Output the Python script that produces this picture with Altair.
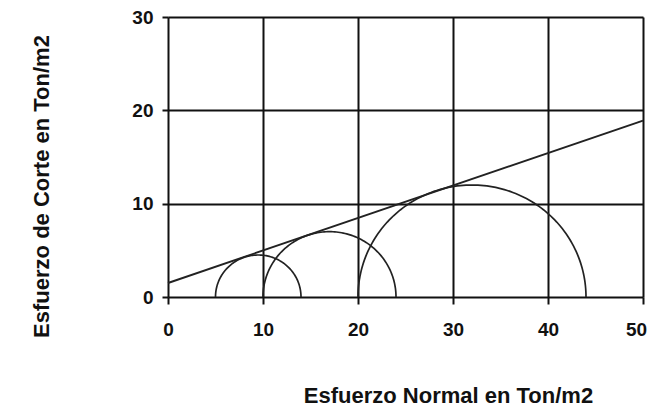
import altair as alt
import numpy as np
import pandas as pd

# Mohr circles: centre and radius (Ton/m2)
circle_ids = ["c1", "c2", "c3"]
centers = [9.5, 17.0, 32.0]
radii = [4.5, 7.0, 12.0]

# Failure envelope (Mohr-Coulomb line)
env_x = [0, 50]
env_y = [1.5, 18.9]

x_ticks = [0, 10, 20, 30, 40, 50]
y_ticks = [0, 10, 20, 30]

angles = np.linspace(0, np.pi, 121)
rows = []
for cid, c, r in zip(circle_ids, centers, radii):
    for i, t in enumerate(angles):
        rows.append({"id": cid, "c": c, "r": r, "t": float(t), "i": i})
circ_df = pd.DataFrame(rows)
env_df = pd.DataFrame({"x": env_x, "y": env_y})

FONT = "Liberation Sans"

xscale = alt.Scale(domain=[0, 50], nice=False, zero=False)
yscale = alt.Scale(domain=[0, 30], nice=False, zero=False)

xaxis = alt.Axis(
    values=x_ticks, title="Esfuerzo Normal en Ton/m2", grid=True,
    gridColor="#111111", gridWidth=2, gridOpacity=1,
    domain=False, tickColor="#111111", tickWidth=2, tickSize=7,
    labelFont=FONT, labelFontSize=19, labelFontWeight="bold", labelColor="#111111",
    labelPadding=16, labelFlush=False,
    labelOffset={"condition": {"test": "datum.value == 50", "value": -7}, "value": 0},
    titleFont=FONT, titleFontSize=22, titleFontWeight="bold", titleColor="#111111",
    titleX=280, titleY=105, titleBaseline="alphabetic", titleAlign="center",
)
yaxis = alt.Axis(
    values=y_ticks, title="Esfuerzo de Corte en Ton/m2", grid=True,
    gridColor="#111111", gridWidth=2, gridOpacity=1,
    domain=False, tickColor="#111111", tickWidth=2, tickSize=6,
    labelFont=FONT, labelFontSize=19, labelFontWeight="bold", labelColor="#111111",
    labelPadding=9, labelFlush=False,
    titleFont=FONT, titleFontSize=22, titleFontWeight="bold", titleColor="#111111",
    titleX=-120, titleY=169, titleAngle=270, titleBaseline="alphabetic", titleAlign="center",
)

circles = alt.Chart(circ_df).transform_calculate(
    x="datum.c + datum.r * cos(datum.t)",
    y="datum.r * sin(datum.t)",
).mark_line(color="#222222", strokeWidth=1.7).encode(
    x=alt.X("x:Q", scale=xscale, axis=xaxis),
    y=alt.Y("y:Q", scale=yscale, axis=yaxis),
    detail="id:N",
    order="i:Q",
)

envelope = alt.Chart(env_df).mark_line(color="#222222", strokeWidth=1.9).encode(
    x=alt.X("x:Q", scale=xscale),
    y=alt.Y("y:Q", scale=yscale),
)

chart = alt.layer(circles, envelope).properties(
    width=475, height=280,
    autosize=alt.AutoSizeParams(type="none"),
    padding={"left": 160, "top": 9, "right": 4, "bottom": 112},
).configure_view(stroke=None).configure(background="white")

chart.save("out.html", embed_options={"renderer": "svg", "actions": False})
